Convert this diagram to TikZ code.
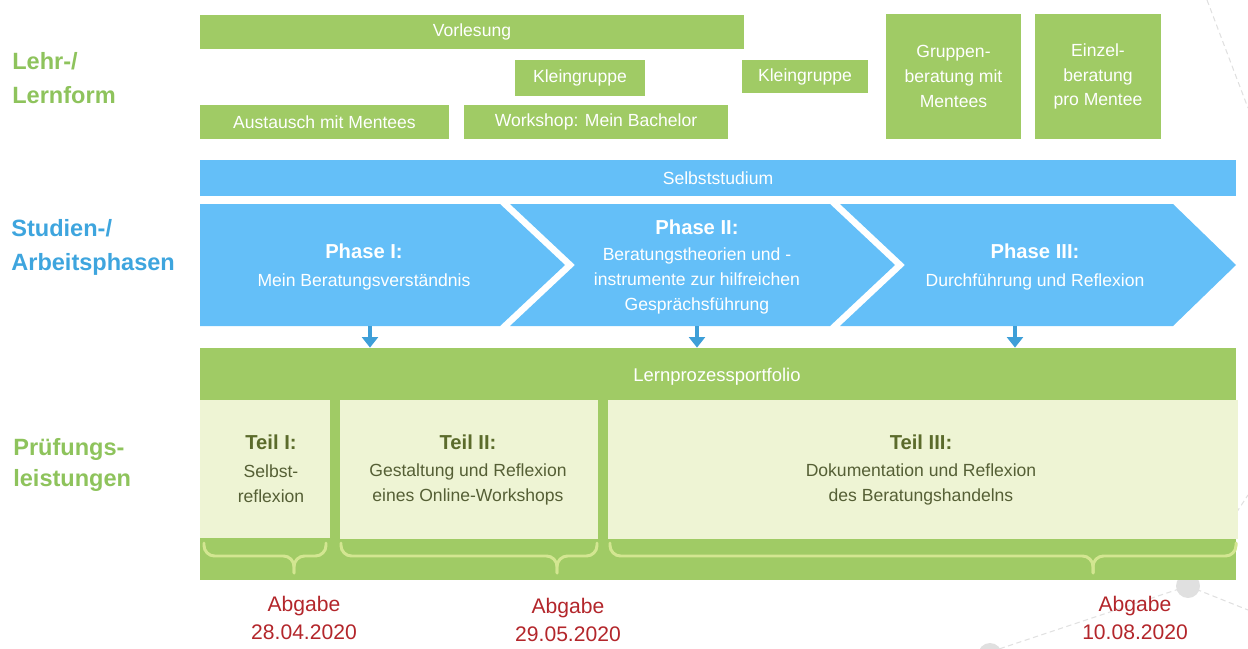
\documentclass[tikz,border=0pt]{standalone}
\usepackage{fontspec}
\setmainfont{Liberation Sans}
\usetikzlibrary{arrows.meta}
\definecolor{boxgreen}{HTML}{A0CB65}
\definecolor{panelgreen}{HTML}{EEF4D4}
\definecolor{labgreen}{HTML}{8EC35C}
\definecolor{barblue}{HTML}{64BFF8}
\definecolor{labblue}{HTML}{3EA5DE}
\definecolor{arrblue}{HTML}{3E9FD8}
\definecolor{bracegreen}{HTML}{D3E691}
\definecolor{olive}{HTML}{5B6B2B}
\definecolor{olivetext}{HTML}{555F35}
\definecolor{duered}{HTML}{B3262B}
\definecolor{decogray}{HTML}{E0E0E0}
\newcommand{\tit}[1]{{\bfseries\fontsize{11.5}{14.2}\selectfont #1}}
\begin{document}
\begin{tikzpicture}[x=0.02cm,y=-0.02cm,
  wh/.style 2 args={minimum width=#1*0.02cm,minimum height=#2*0.02cm},
  gbox/.style={fill=boxgreen,text=white,inner sep=0pt,align=center,font=\fontsize{10}{14.2}\selectfont},
  bbox/.style={fill=barblue,text=white,inner sep=0pt,align=center,font=\fontsize{10}{14.2}\selectfont},
  panel/.style={fill=panelgreen,inner sep=0pt},
  phasefill/.style={fill=barblue},
  ptext/.style={text=white,align=center,inner sep=0pt,font=\fontsize{10}{14.2}\selectfont},
  ttext/.style={text=olivetext,align=center,inner sep=0pt,font=\fontsize{10}{14.2}\selectfont},
  lab/.style={anchor=west,align=left,inner sep=0pt,font=\bfseries\fontsize{13.4}{19.8}\selectfont},
  due/.style={text=duered,align=center,inner sep=0pt,font=\fontsize{12}{15.9}\selectfont},
  parrow/.style={draw=arrblue,line width=2pt,-{Triangle[width=9pt,length=6pt]}},
  brace/.style={draw=bracegreen,line width=1.7pt,rounded corners=6,line cap=round},
  deco/.style={draw=decogray,line width=0.6pt,dash pattern=on 3pt off 2pt}
]
\useasboundingbox (0,0) rectangle (1248,649);
% background decoration
\draw[deco] (1207,0) -- (1248,108);
\draw[deco] (1188,586) -- (1248,495);
\draw[deco] (1188,586) -- (1248,610);
\draw[deco] (1188,586) -- (990,652);
\fill[decogray] (1188,586) circle (12);
\fill[decogray] (990,655) circle (12);

% left labels
\node[lab,text=labgreen] (lehr) at (12,78) {Lehr-/\\Lernform};
\node[lab,text=labblue] (studien) at (11,247.5) {Studien-/\\Arbeitsphasen};
\node[lab,text=labgreen,font=\bfseries\fontsize{13.4}{18}\selectfont] (pruef) at (13,465) {Prüfungs-\\leistungen};

% Lehr-/Lernform boxes
\node[gbox,wh={544}{34}] (vorl) at (472,32) {Vorlesung};
\node[gbox,wh={130}{36}] (klein1) at (580,78) {Kleingruppe};
\node[gbox,wh={126}{33}] (klein2) at (805,76.5) {Kleingruppe};
\node[gbox,wh={249}{34}] (aust) at (324.5,122) {Austausch mit Mentees};
\node[gbox,wh={264}{34}] (work) at (596,122) {Workshop: Mein Bachelor};
\node[gbox,wh={135}{125}] (grupp) at (953.5,76.5) {Gruppen-\\beratung mit\\Mentees};
\node[gbox,wh={126}{125}] (einz) at (1098,76.5) {Einzel-\\beratung\\pro Mentee};

% Selbststudium
\node[bbox,wh={1036}{36}] (selbst) at (718,178) {Selbststudium};

% Phases
\fill[phasefill] (200,204) -- (500,204) -- (565,265) -- (500,326) -- (200,326) -- cycle;
\fill[phasefill] (510,204) -- (830,204) -- (895,265) -- (830,326) -- (510,326) -- (575,265) -- cycle;
\fill[phasefill] (840,204) -- (1173,204) -- (1236,265) -- (1173,326) -- (840,326) -- (905,265) -- cycle;
\node[ptext] (ph1) at (364,267) {\tit{Phase I:}\\[2pt]Mein Beratungsverständnis};
\node[ptext] (ph2) at (697,267) {\tit{Phase II:}\\[1pt]Beratungstheorien und -\\instrumente zur hilfreichen\\Gesprächsführung};
\node[ptext] (ph3) at (1035,267) {\tit{Phase III:}\\[2pt]Durchführung und Reflexion};

% Portfolio
\node[fill=boxgreen,inner sep=0pt,wh={1036}{232}] (port) at (718,464) {};
\node[text=white,inner sep=0pt,font=\fontsize{10.5}{14.2}\selectfont] (porttitle) at (717,377) {Lernprozessportfolio};
\node[panel,wh={130}{138}] (t1) at (265,469) {};
\node[panel,wh={258}{139}] (t2) at (469,469.5) {};
\node[panel,wh={630}{139}] (t3) at (923,469.5) {};
\node[ttext] (t1text) at (271,469) {\tit{\color{olive}Teil I:}\\[1.5pt]Selbst-\\reflexion};
\node[ttext] (t2text) at (468,470) {\tit{\color{olive}Teil II:}\\[1.5pt]Gestaltung und Reflexion\\eines Online-Workshops};
\node[ttext] (t3text) at (921,470) {\tit{\color{olive}Teil III:}\\[1.5pt]Dokumentation und Reflexion\\des Beratungshandelns};

% arrows from phases to portfolio
\coordinate (a1) at (370,326);
\coordinate (a2) at (697,326);
\coordinate (a3) at (1015,326);
\draw[parrow] (a1) -- (a1 |- port.north);
\draw[parrow] (a2) -- (a2 |- port.north);
\draw[parrow] (a3) -- (a3 |- port.north);

% braces
\draw[brace] (204,543) -- (204,556) -- (294,556) -- (294,573);
\draw[brace] (294,573) -- (294,556) -- (326,556) -- (326,543);
\draw[brace] (341,543) -- (341,556) -- (557,556) -- (557,573);
\draw[brace] (557,573) -- (557,556) -- (597,556) -- (597,543);
\draw[brace] (610,543) -- (610,556) -- (1093,556) -- (1093,573);
\draw[brace] (1093,573) -- (1093,556) -- (1236,556) -- (1236,543);

% due dates
\node[due] (d1) at (304,618) {Abgabe\\28.04.2020};
\node[due] (d2) at (568,620) {Abgabe\\29.05.2020};
\node[due] (d3) at (1135,618) {Abgabe\\10.08.2020};
\end{tikzpicture}
\end{document}
